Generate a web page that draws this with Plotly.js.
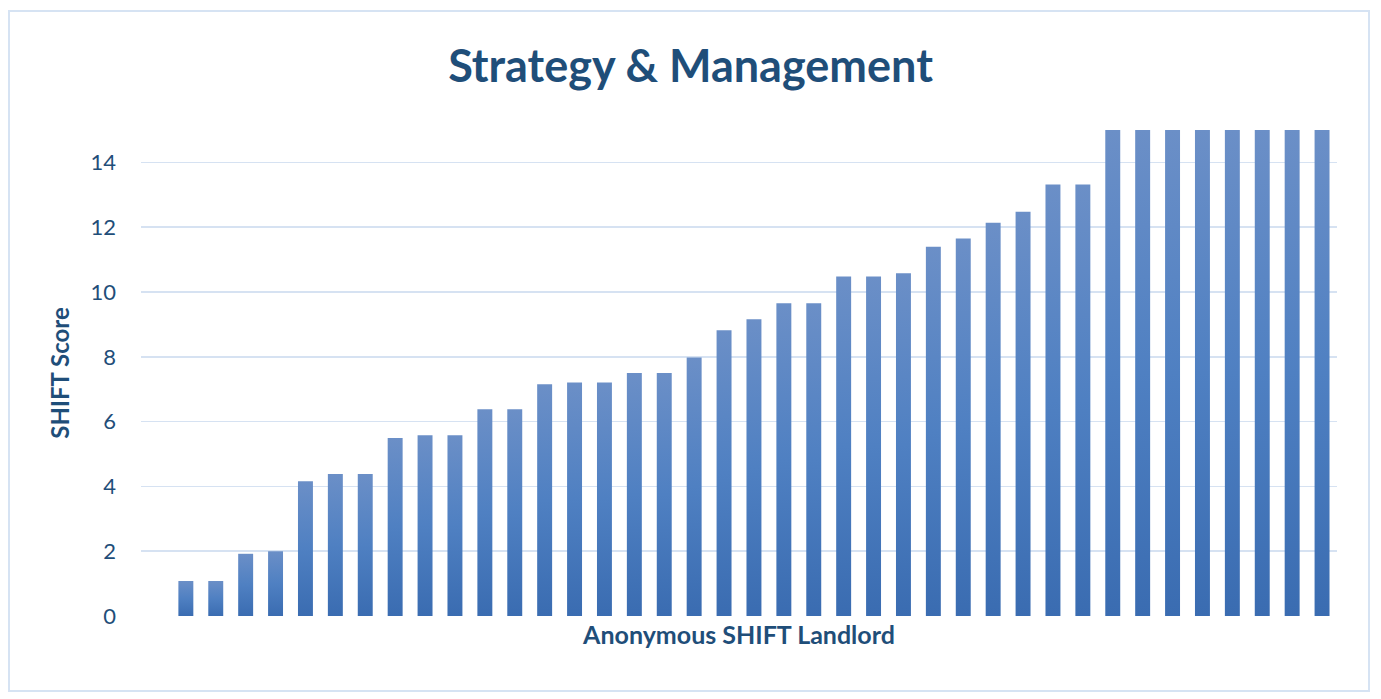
<!DOCTYPE html>
<html>
<head>
<meta charset="utf-8">
<script src="https://cdn.plot.ly/plotly-3.0.1.min.js"></script>
<style>
  html, body { margin: 0; padding: 0; background: #fff; }
  #chartContainer { width: 1381px; height: 699px; }
  #frame {
    position: absolute; left: 8px; top: 10px; width: 1358px; height: 678px;
    border: 2px solid #d6e3f3; pointer-events: none;
  }
</style>
</head>
<body>
<div id="chartContainer"></div>
<div id="frame"></div>
<script>
// one bar per landlord, sorted by score (first landlord scored 0)
var landlords = [];
for (var i = 1; i <= 40; i++) landlords.push('Landlord ' + i);
var scores = [
  0, 1.08, 1.08, 1.92, 2.0, 4.16, 4.38, 4.38, 5.49, 5.58,
  5.58, 6.38, 6.38, 7.15, 7.21, 7.21, 7.5, 7.5, 7.98, 8.82,
  9.16, 9.65, 9.65, 10.48, 10.48, 10.58, 11.4, 11.65, 12.14, 12.48,
  13.32, 13.32, 15, 15, 15, 15, 15, 15, 15, 15
];
var yTicks = [0, 2, 4, 6, 8, 10, 12, 14];

var navy = '#1f4e79';
var fontFamily = 'Lato, "Open Sans", sans-serif';

var trace1 = {
  x: landlords,
  y: scores,
  type: 'bar',
  name: 'SHIFT Score',
  marker: { color: '#5582c0' },
  hoverinfo: 'skip'
};

var layout = {
  width: 1381,
  height: 699,
  paper_bgcolor: '#fff',
  plot_bgcolor: '#fff',
  margin: { l: 141, r: 44, t: 130, b: 83 },
  bargap: 0.5,
  showlegend: false,
  title: {
    text: '<b>Strategy & Management</b>',
    font: { family: fontFamily, size: 45, color: navy },
    x: 0.5, xref: 'container', xanchor: 'center',
    y: 0.905, yref: 'container', yanchor: 'middle'
  },
  xaxis: {
    type: 'category',
    showticklabels: false,
    showgrid: false,
    zeroline: false,
    showline: false,
    ticks: '',
    title: {
      text: '<b>Anonymous SHIFT Landlord</b>',
      font: { family: fontFamily, size: 25, color: navy },
      standoff: 10
    }
  },
  yaxis: {
    range: [0, 15],
    tickvals: yTicks,
    ticktext: yTicks.map(String),
    showgrid: true,
    gridcolor: '#d6e2f2',
    gridwidth: 1.6,
    zeroline: false,
    showline: false,
    ticks: '',
    ticklabelstandoff: 24,
    tickfont: { family: fontFamily, size: 22, color: navy },
    title: {
      text: '<b>SHIFT Score</b>',
      font: { family: fontFamily, size: 24, color: navy },
      standoff: 14
    }
  }
};

Plotly.newPlot('chartContainer', [trace1], layout, { staticPlot: true }).then(function (gd) {
  // vertical light-to-dark shading on every bar, as in the original
  var svg = gd.querySelector('.main-svg');
  var ns = 'http://www.w3.org/2000/svg';
  var defs = svg.querySelector('defs') || svg.insertBefore(document.createElementNS(ns, 'defs'), svg.firstChild);
  var grad = document.createElementNS(ns, 'linearGradient');
  grad.setAttribute('id', 'barGrad');
  grad.setAttribute('x1', '0'); grad.setAttribute('y1', '0');
  grad.setAttribute('x2', '0'); grad.setAttribute('y2', '1');
  [['0', '#6b8fc7'], ['0.5', '#4f80c2'], ['1', '#3a6cb1']].forEach(function (s) {
    var stop = document.createElementNS(ns, 'stop');
    stop.setAttribute('offset', s[0]);
    stop.setAttribute('stop-color', s[1]);
    grad.appendChild(stop);
  });
  defs.appendChild(grad);
  gd.querySelectorAll('.bars .point path').forEach(function (p) {
    p.style.fill = 'url(#barGrad)';
  });
});
</script>
</body>
</html>
